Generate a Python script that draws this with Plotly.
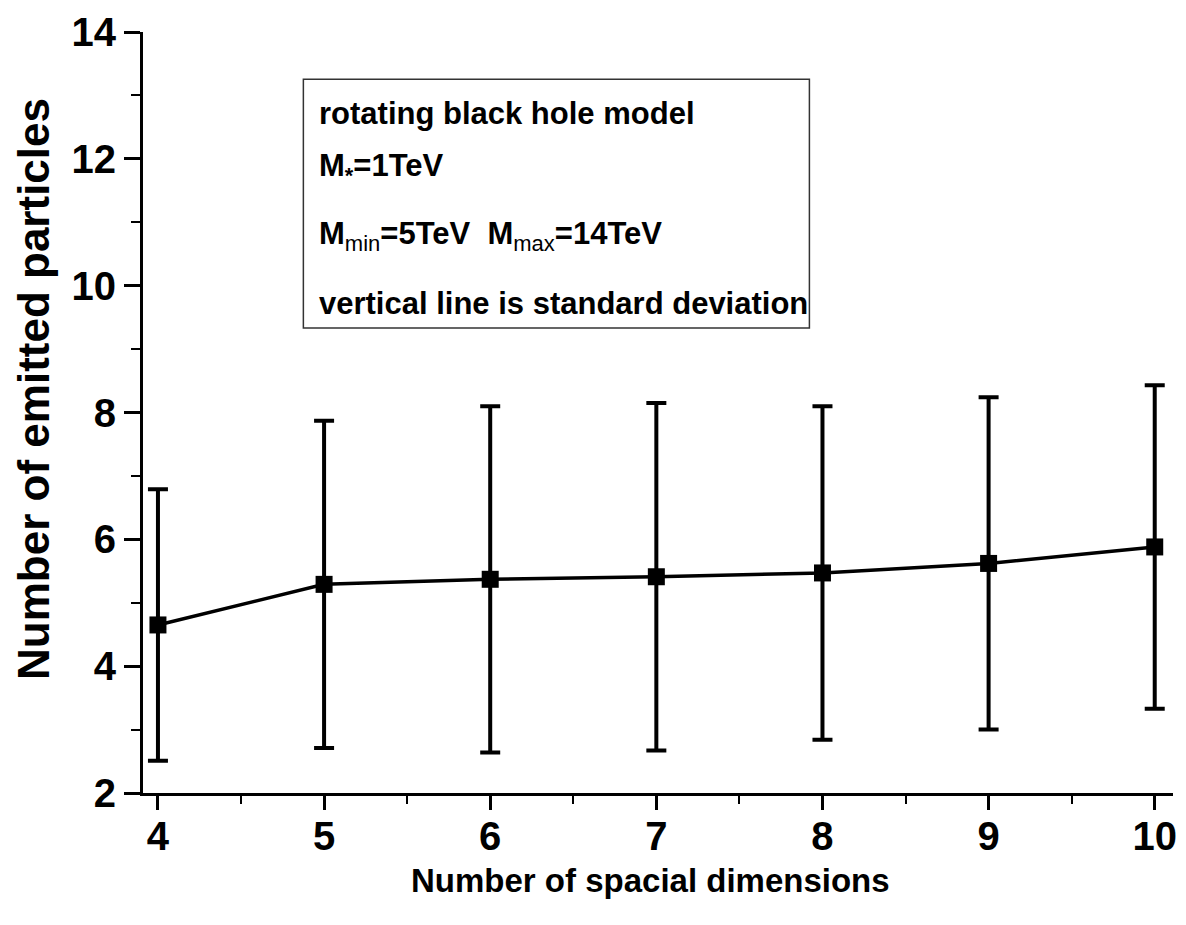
import plotly.graph_objects as go

# Number of spatial dimensions vs. mean number of emitted particles
dimensions = [4, 5, 6, 7, 8, 9, 10]
mean_particles = [4.65, 5.29, 5.37, 5.41, 5.47, 5.62, 5.88]
std_dev = [2.14, 2.58, 2.73, 2.74, 2.63, 2.62, 2.55]

y_ticks = [2, 4, 6, 8, 10, 12, 14]
x_ticks = [4, 5, 6, 7, 8, 9, 10]

info_lines = [
    "rotating black hole model",
    "M<sub>*</sub>=1TeV",
    "M<sub><span style='font-size:22px;font-weight:normal'>min</span></sub>=5TeV  "
    "M<sub><span style='font-size:22px;font-weight:normal'>max</span></sub>=14TeV",
    "vertical line is standard deviation",
]

FONT = "Liberation Sans, Arial, sans-serif"

fig = go.Figure()
fig.add_trace(go.Scatter(
    x=dimensions,
    y=mean_particles,
    mode="lines+markers",
    line=dict(color="black", width=3.5),
    marker=dict(symbol="square", size=17, color="black"),
    error_y=dict(type="data", array=std_dev, visible=True,
                 color="black", thickness=4, width=10),
    showlegend=False,
))

fig.update_layout(
    width=1186, height=925,
    margin=dict(l=143, r=9, t=32, b=132),
    paper_bgcolor="white", plot_bgcolor="white",
    font=dict(family=FONT, color="black"),
)

fig.update_xaxes(
    range=[3.91, 10.11],
    tickmode="array", tickvals=x_ticks, ticktext=[str(v) for v in x_ticks],
    ticks="outside", ticklen=14, tickwidth=3, tickcolor="black",
    ticklabelstandoff=-8,
    minor=dict(ticks="outside", ticklen=8, tickwidth=2, tickcolor="black", dtick=0.5, showgrid=False),
    showline=True, linecolor="black", linewidth=3,
    showgrid=False, zeroline=False,
    tickfont=dict(family=FONT, size=40, weight="bold", color="black"),
)
fig.update_yaxes(
    range=[2, 14],
    tickmode="array", tickvals=y_ticks, ticktext=[str(v) for v in y_ticks],
    ticks="outside", ticklen=16, tickwidth=3, tickcolor="black",
    ticklabelstandoff=0,
    minor=dict(ticks="outside", ticklen=9, tickwidth=2, tickcolor="black", dtick=1, showgrid=False),
    showline=True, linecolor="black", linewidth=3,
    showgrid=False, zeroline=False,
    tickfont=dict(family=FONT, size=40, weight="bold", color="black"),
)

# Axis titles
fig.add_annotation(
    text="Number of emitted particles", textangle=-90,
    xref="paper", yref="paper", x=0, y=0.531, xshift=-109,
    xanchor="center", yanchor="middle", showarrow=False,
    font=dict(family=FONT, size=44, weight="bold", color="black"),
)
fig.add_annotation(
    text="Number of spacial dimensions",
    xref="paper", yref="paper", x=0.493, y=0, yshift=-87,
    xanchor="center", yanchor="middle", showarrow=False,
    font=dict(family=FONT, size=33, weight="bold", color="black"),
)

# Info box
fig.add_shape(
    type="rect", xref="paper", yref="paper",
    x0=0.1557, x1=0.647, y0=0.611, y1=0.938,
    line=dict(color="#333333", width=1.5), fillcolor="rgba(0,0,0,0)",
)
line_centers_px = [113, 168, 236, 303]
for txt, cy in zip(info_lines, line_centers_px):
    fig.add_annotation(
        text=txt, xref="paper", yref="paper",
        x=0.169, y=(793 - cy) / 761,
        xanchor="left", yanchor="middle", showarrow=False,
        font=dict(family=FONT, size=31, weight="bold", color="black"),
    )

fig.write_html("out.html")
